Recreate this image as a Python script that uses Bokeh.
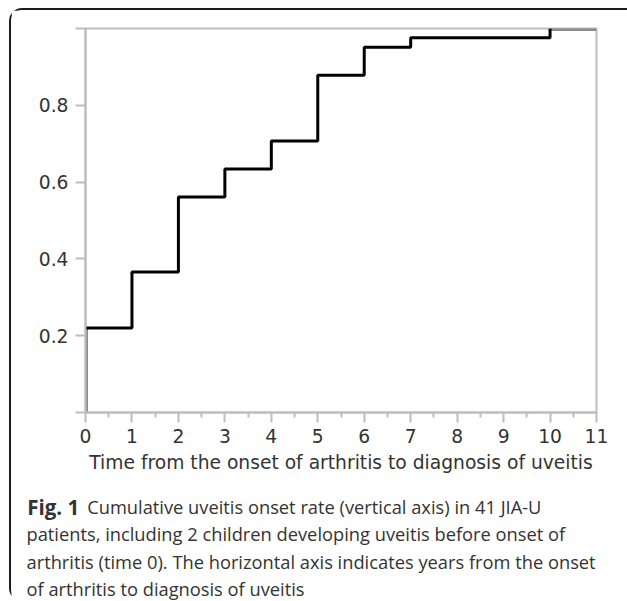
from bokeh.plotting import figure
from bokeh.layouts import column
from bokeh.models import Range1d, FixedTicker, ColumnDataSource
from bokeh.core.properties import value
from bokeh.embed import file_html
from bokeh.resources import INLINE

# Data
times = [0, 1, 2, 3, 4, 5, 6, 7, 10]
rate = [0.22, 0.366, 0.561, 0.634, 0.707, 0.878, 0.951, 0.976, 1.0]
x_ticks = list(range(0, 12))
x_minor = [t + 0.5 for t in range(0, 11)]
y_ticks = [0.0, 0.2, 0.4, 0.6, 0.8, 1.0]
y_labels = {0.0: "", 0.2: "0.2", 0.4: "0.4", 0.6: "0.6", 0.8: "0.8", 1.0: ""}
x_title = "Time from the onset of arthritis to diagnosis of uveitis"
caption_bold = "Fig. 1"
caption_lines = [
    "Cumulative uveitis onset rate (vertical axis) in 41 JIA-U",
    "patients, including 2 children developing uveitis before onset of",
    "arthritis (time 0). The horizontal axis indicates years from the onset",
    "of arthritis to diagnosis of uveitis",
]

X_MIN, X_MAX = 0, 11
Y_MIN, Y_MAX = 0, 1

AX = "#bdbdbd"
TXT = "#333333"
FS = "18.7px"

W = 616          # content width inside the rounded frame
H1 = 475         # chart height
H2 = 116         # caption height

p = figure(width=W, height=H1, output_backend="svg", toolbar_location=None,
           x_range=Range1d(X_MIN, X_MAX), y_range=Range1d(Y_MIN, Y_MAX),
           min_border_left=74, min_border_right=31, min_border_top=18,
           min_border_bottom=73)
p.frame_align = False
p.xgrid.visible = False
p.ygrid.visible = False
p.outline_line_color = AX
p.outline_line_width = 2
p.background_fill_color = "white"
p.border_fill_color = "white"

# x axis
xa = p.xaxis[0]
xa.ticker = FixedTicker(ticks=x_ticks, minor_ticks=x_minor)
xa.axis_line_color = AX
xa.axis_line_width = 2
xa.major_tick_line_color = AX
xa.major_tick_line_width = 2
xa.minor_tick_line_color = AX
xa.minor_tick_line_width = 2
xa.major_tick_in = 0
xa.major_tick_out = 10
xa.minor_tick_in = 0
xa.minor_tick_out = 5
xa.major_label_text_font = "DejaVu Sans"
xa.major_label_text_font_size = FS
xa.major_label_text_color = TXT
xa.major_label_standoff = 6
xa.axis_label = x_title
xa.axis_label_text_font = "DejaVu Sans"
xa.axis_label_text_font_size = FS
xa.axis_label_text_font_style = "normal"
xa.axis_label_text_color = TXT
xa.axis_label_standoff = 6

# y axis
ya = p.yaxis[0]
ya.ticker = FixedTicker(ticks=y_ticks)
ya.major_label_overrides = y_labels
ya.axis_line_color = AX
ya.axis_line_width = 2
ya.major_tick_line_color = AX
ya.major_tick_line_width = 2
ya.minor_tick_line_color = None
ya.major_tick_in = 0
ya.major_tick_out = 10
ya.major_label_text_font = "DejaVu Sans"
ya.major_label_text_font_size = FS
ya.major_label_text_color = TXT
ya.major_label_standoff = 7

# grey segments: before first event and after last event
p.segment(x0=[times[0], times[-1]], y0=[Y_MIN, rate[-1]],
          x1=[times[0], X_MAX], y1=[rate[0], rate[-1]],
          line_color="#8c8c8c", line_width=5)
# black cumulative step line
p.step(x=times, y=rate, mode="after", line_color="black", line_width=3)

# caption figure (pixel coordinates, y downward)
c = figure(width=W, height=H2, output_backend="svg", toolbar_location=None,
           x_range=Range1d(0, W), y_range=Range1d(H2, 0),
           x_axis_location=None, y_axis_location=None,
           min_border=0, min_border_left=0, min_border_right=0,
           min_border_top=0, min_border_bottom=0)
c.frame_align = False
c.grid.visible = False
c.outline_line_color = None
c.background_fill_color = "white"
c.border_fill_color = "white"

LEFT = 15
LINE0 = 21
STEP = 27.3
c.text(x=[LEFT + 0.7], y=[LINE0], text=[caption_bold], text_font=value("Open Sans"),
       text_font_style="bold", text_font_size="20.5px", text_color=TXT,
       text_baseline="alphabetic", text_align="left")
first_x = 75.7
cap_src = ColumnDataSource(dict(
    x=[first_x] + [LEFT] * (len(caption_lines) - 1),
    y=[LINE0 + i * STEP for i in range(len(caption_lines))],
    text=caption_lines))
c.text(x="x", y="y", text="text", source=cap_src, text_font=value("Open Sans"),
       text_font_size="18.3px", text_color=TXT, text_baseline="alphabetic",
       text_align="left")

layout = column(p, c, spacing=0, styles={
    "position": "relative", "left": "9px", "top": "8px",
    "border-left": "2px solid #1e1e1e", "border-top": "2px solid #1e1e1e",
    "border-top-left-radius": "13px", "border-bottom-left-radius": "13px",
})

open("out.html", "w").write(file_html(layout, INLINE))
